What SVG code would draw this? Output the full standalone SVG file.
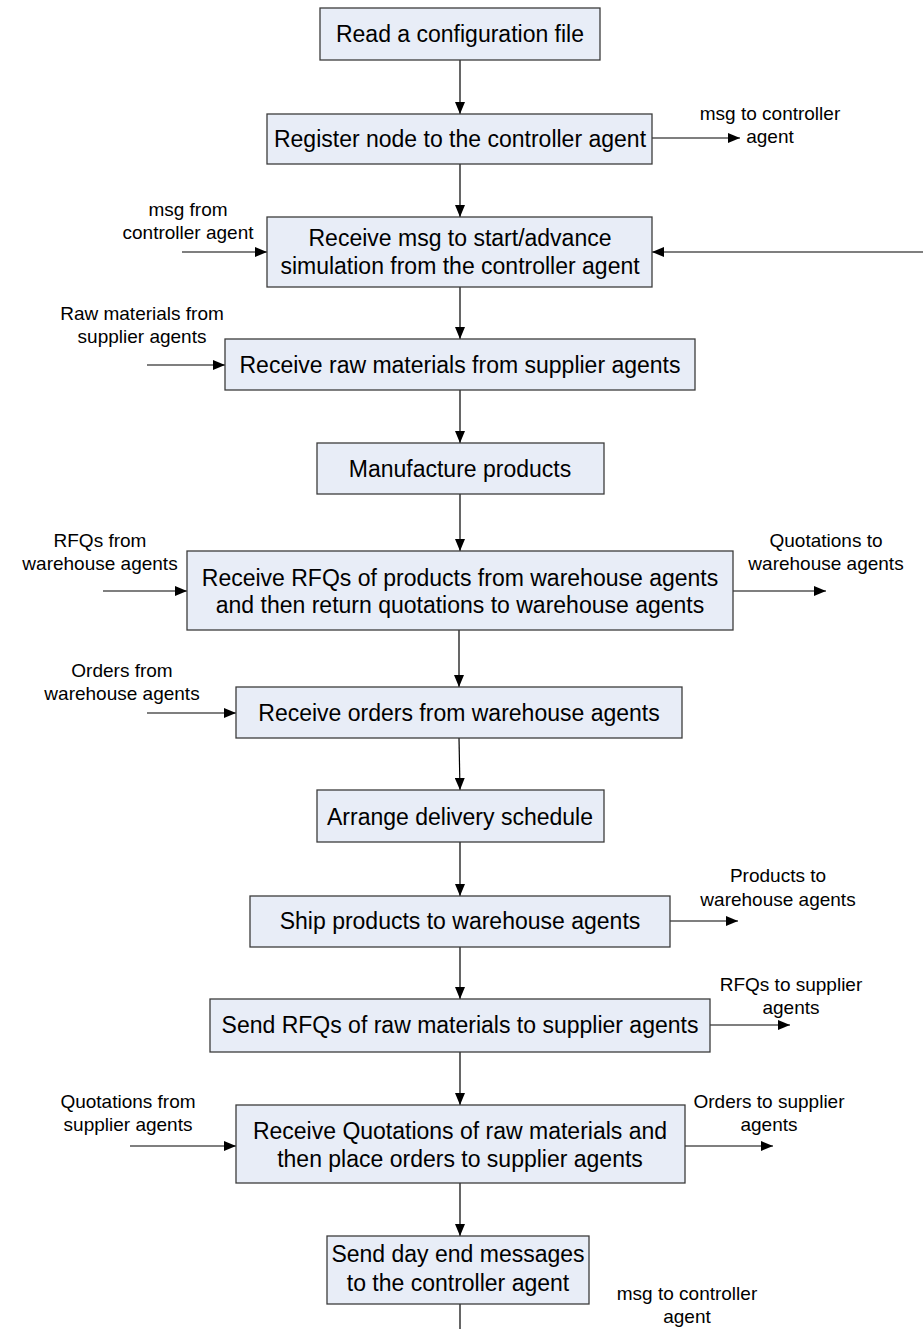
<svg xmlns="http://www.w3.org/2000/svg" width="923" height="1329" viewBox="0 0 923 1329">
  <style>
    .box { fill: #e8edf7; stroke: #3c3c3c; stroke-width: 1.3; }
    .t { font-family: "Liberation Sans", Arial, sans-serif; font-size: 23px; fill: #000; text-anchor: middle; }
    .lbl { font-family: "Liberation Sans", Arial, sans-serif; font-size: 19px; fill: #000; text-anchor: middle; }
    .ln { stroke: #000; stroke-width: 1.2; fill: none; }
    .arr { stroke: #000; stroke-width: 1.2; fill: none; marker-end: url(#ah); }
  </style>
  <defs>
    <marker id="ah" viewBox="0 0 12 10" refX="12" refY="5" markerWidth="12" markerHeight="10" markerUnits="userSpaceOnUse" orient="auto">
      <path d="M0,0 L12,5 L0,10 Z" fill="#000"/>
    </marker>
  </defs>
  <rect width="923" height="1329" fill="#fff"/>

  <!-- connectors -->
  <g id="connectors">
    <!-- main flow -->
    <line class="arr" x1="460" y1="60" x2="460" y2="114"/>
    <line class="arr" x1="460" y1="164" x2="460" y2="217"/>
    <line class="arr" x1="460" y1="287" x2="460" y2="339"/>
    <line class="arr" x1="460" y1="390" x2="460" y2="443"/>
    <line class="arr" x1="460" y1="494" x2="460" y2="551"/>
    <line class="arr" x1="459" y1="630" x2="459" y2="687"/>
    <line class="arr" x1="459" y1="738" x2="460" y2="790"/>
    <line class="arr" x1="460" y1="842" x2="460" y2="896"/>
    <line class="arr" x1="460" y1="947" x2="460" y2="999"/>
    <line class="arr" x1="460" y1="1052" x2="460" y2="1105"/>
    <line class="arr" x1="460" y1="1183" x2="460" y2="1236"/>
    <line class="ln" x1="460" y1="1304" x2="460" y2="1329"/>
    <!-- external messages -->
    <line class="arr" x1="652" y1="138" x2="740" y2="138"/>
    <line class="arr" x1="182" y1="252" x2="267" y2="252"/>
    <line class="arr" x1="923" y1="252" x2="652" y2="252"/>
    <line class="arr" x1="147" y1="365" x2="225" y2="365"/>
    <line class="arr" x1="103" y1="591" x2="187" y2="591"/>
    <line class="arr" x1="733" y1="591" x2="826" y2="591"/>
    <line class="arr" x1="147" y1="713" x2="236" y2="713"/>
    <line class="arr" x1="670" y1="921" x2="738" y2="921"/>
    <line class="arr" x1="710" y1="1025" x2="790" y2="1025"/>
    <line class="arr" x1="130" y1="1146" x2="236" y2="1146"/>
    <line class="arr" x1="685" y1="1146" x2="773" y2="1146"/>
  </g>

  <!-- message labels -->
  <g id="labels">
    <text class="lbl" x="770" y="120">msg to controller</text>
    <text class="lbl" x="770" y="143">agent</text>
    <text class="lbl" x="188" y="216">msg from</text>
    <text class="lbl" x="188" y="239">controller agent</text>
    <text class="lbl" x="142" y="320">Raw materials from</text>
    <text class="lbl" x="142" y="343">supplier agents</text>
    <text class="lbl" x="100" y="547">RFQs from</text>
    <text class="lbl" x="100" y="570">warehouse agents</text>
    <text class="lbl" x="826" y="547">Quotations to</text>
    <text class="lbl" x="826" y="570">warehouse agents</text>
    <text class="lbl" x="122" y="677">Orders from</text>
    <text class="lbl" x="122" y="700">warehouse agents</text>
    <text class="lbl" x="778" y="882">Products to</text>
    <text class="lbl" x="778" y="906">warehouse agents</text>
    <text class="lbl" x="791" y="991">RFQs to supplier</text>
    <text class="lbl" x="791" y="1014">agents</text>
    <text class="lbl" x="128" y="1108">Quotations from</text>
    <text class="lbl" x="128" y="1131">supplier agents</text>
    <text class="lbl" x="769" y="1108">Orders to supplier</text>
    <text class="lbl" x="769" y="1131">agents</text>
    <text class="lbl" x="687" y="1300">msg to controller</text>
    <text class="lbl" x="687" y="1323">agent</text>
  </g>

  <!-- process steps -->
  <g id="n1">
    <rect class="box" x="320" y="8" width="280" height="52"/>
    <text class="t" x="460" y="42">Read a configuration file</text>
  </g>
  <g id="n2">
    <rect class="box" x="267" y="114" width="385" height="50"/>
    <text class="t" x="460" y="147">Register node to the controller agent</text>
  </g>
  <g id="n3">
    <rect class="box" x="267" y="217" width="385" height="70"/>
    <text class="t" x="460" y="246">Receive msg to start/advance</text>
    <text class="t" x="460" y="274">simulation from the controller agent</text>
  </g>
  <g id="n4">
    <rect class="box" x="225" y="339" width="470" height="51"/>
    <text class="t" x="460" y="373">Receive raw materials from supplier agents</text>
  </g>
  <g id="n5">
    <rect class="box" x="317" y="443" width="287" height="51"/>
    <text class="t" x="460" y="477">Manufacture products</text>
  </g>
  <g id="n6">
    <rect class="box" x="187" y="551" width="546" height="79"/>
    <text class="t" x="460" y="586">Receive RFQs of products from warehouse agents</text>
    <text class="t" x="460" y="613">and then return quotations to warehouse agents</text>
  </g>
  <g id="n7">
    <rect class="box" x="236" y="687" width="446" height="51"/>
    <text class="t" x="459" y="721">Receive orders from warehouse agents</text>
  </g>
  <g id="n8">
    <rect class="box" x="317" y="790" width="287" height="52"/>
    <text class="t" x="460" y="825">Arrange delivery schedule</text>
  </g>
  <g id="n9">
    <rect class="box" x="250" y="896" width="420" height="51"/>
    <text class="t" x="460" y="929">Ship products to warehouse agents</text>
  </g>
  <g id="n10">
    <rect class="box" x="210" y="999" width="500" height="53"/>
    <text class="t" x="460" y="1033">Send RFQs of raw materials to supplier agents</text>
  </g>
  <g id="n11">
    <rect class="box" x="236" y="1105" width="449" height="78"/>
    <text class="t" x="460" y="1139">Receive Quotations of raw materials and</text>
    <text class="t" x="460" y="1167">then place orders to supplier agents</text>
  </g>
  <g id="n12">
    <rect class="box" x="327" y="1236" width="262" height="68"/>
    <text class="t" x="458" y="1262">Send day end messages</text>
    <text class="t" x="458" y="1291">to the controller agent</text>
  </g>
</svg>
